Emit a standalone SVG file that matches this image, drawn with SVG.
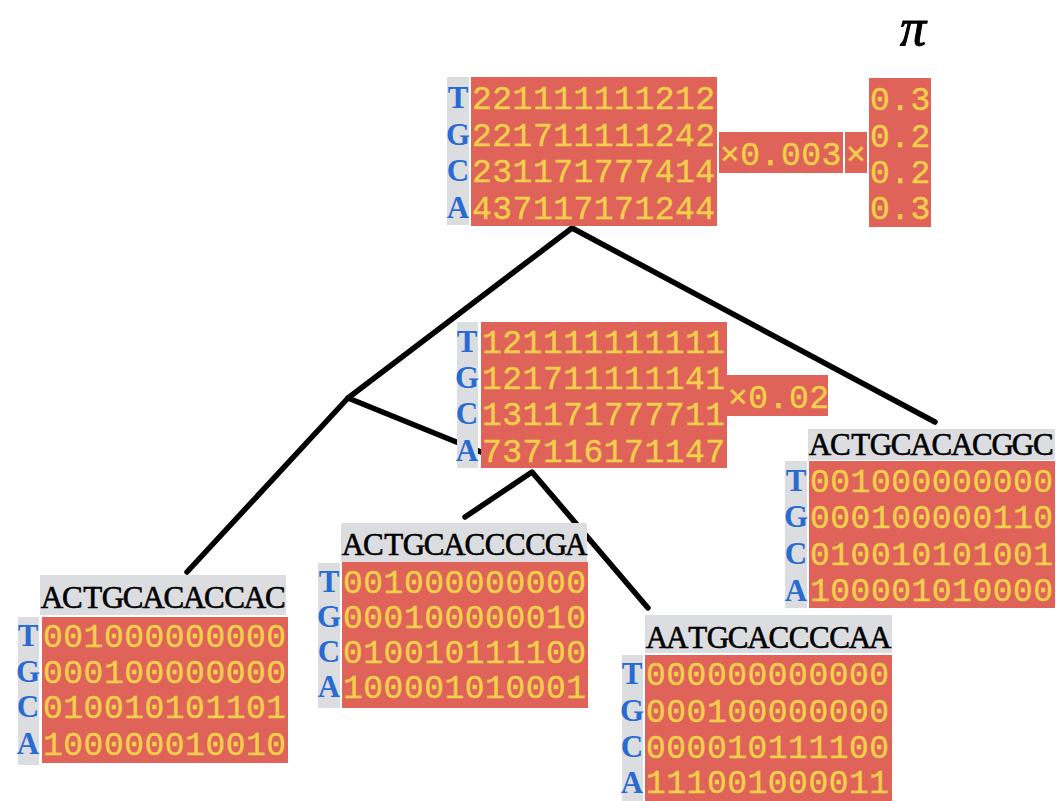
<svg xmlns="http://www.w3.org/2000/svg" width="1056" height="801" viewBox="0 0 1056 801">
<style>
.red{fill:#e0635a}
.gray{fill:#dcdde1}
.dig{font-family:"Liberation Mono",monospace;font-size:33px;fill:#f3d04b;letter-spacing:0.5px;stroke:#f3d04b;stroke-width:0.4}
.base{font-family:"Liberation Serif",serif;font-weight:bold;font-size:31px;fill:#2a6bd0;text-anchor:middle}
.hdr{font-family:"Liberation Serif",serif;font-size:31px;fill:#000;stroke:#000;stroke-width:0.6;text-anchor:middle}
.edge{stroke:#000;stroke-width:5.5;fill:none;stroke-linecap:round;stroke-linejoin:round}
</style>
<rect width="1056" height="801" fill="#fff"/>
<g id="connectors">
<path class="edge" d="M348,398 L572,228 L935,422"/>
<path class="edge" d="M187,572 L348,398 L481,452"/>
<path class="edge" d="M465,517 L532,472 L648,608"/>
</g>
<g id="pi-label">
<text x="913" y="45" font-family="Liberation Serif,serif" font-style="italic" font-size="52" text-anchor="middle" fill="#000" stroke="#000" stroke-width="1">π</text>
</g>
<g id="root">
<rect class="gray" x="447" y="77" width="22" height="148"/>
<rect class="red" x="471" y="77" width="246" height="149"/>
<text class="base" x="458" y="108">T</text>
<text class="base" x="458" y="145">G</text>
<text class="base" x="458" y="181">C</text>
<text class="base" x="458" y="218">A</text>
<text class="dig" x="472" y="109">221111111212</text>
<text class="dig" x="472" y="145.5">221711111242</text>
<text class="dig" x="472" y="182">231171777414</text>
<text class="dig" x="472" y="218.5">437117171244</text>
<rect class="red" x="719" y="132" width="124" height="41"/>
<text class="dig" x="720" y="165">×0.003</text>
<rect class="red" x="845" y="132" width="22" height="41"/>
<text class="dig" x="846" y="165">×</text>
<rect class="red" x="869" y="78" width="62" height="149"/>
<text class="dig" x="870" y="110">0.3</text>
<text class="dig" x="870" y="147">0.2</text>
<text class="dig" x="870" y="183">0.2</text>
<text class="dig" x="870" y="219">0.3</text>
</g>
<g id="internal">
<rect class="gray" x="457" y="322" width="21" height="146"/>
<rect class="red" x="481" y="322" width="246" height="146"/>
<text class="base" x="467" y="352">T</text>
<text class="base" x="467" y="388">G</text>
<text class="base" x="467" y="424">C</text>
<text class="base" x="467" y="461">A</text>
<text class="dig" x="482" y="353">121111111111</text>
<text class="dig" x="482" y="389">121711111141</text>
<text class="dig" x="482" y="425">131171777711</text>
<text class="dig" x="482" y="462">737116171147</text>
<rect class="red" x="727" y="375" width="101" height="41"/>
<text class="dig" x="728" y="408">×0.02</text>
</g>
<g id="leaf-right">
<rect class="gray" x="808" y="429" width="247" height="31"/>
<text class="hdr" x="820 840.3 860.6 880.9 901.2 921.5 941.8 962.1 982.4 1002.7 1023 1043.3" y="455">ACTGCACACGGC</text>
<rect class="gray" x="785" y="461" width="22" height="147"/>
<rect class="red" x="809" y="461" width="246" height="147"/>
<text class="base" x="796" y="491">T</text>
<text class="base" x="796" y="527">G</text>
<text class="base" x="796" y="564">C</text>
<text class="base" x="796" y="601">A</text>
<text class="dig" x="810" y="492">001000000000</text>
<text class="dig" x="810" y="528">000100000110</text>
<text class="dig" x="810" y="565">010010101001</text>
<text class="dig" x="810" y="601">100001010000</text>
</g>
<g id="leaf-left">
<rect class="gray" x="40" y="575" width="246" height="40"/>
<text class="hdr" x="52 72.3 92.6 112.9 133.2 153.5 173.8 194.1 214.4 234.7 255 275.3" y="608">ACTGCACACCAC</text>
<rect class="gray" x="18" y="617" width="21" height="148"/>
<rect class="red" x="42" y="617" width="246" height="146"/>
<text class="base" x="28" y="646">T</text>
<text class="base" x="28" y="682">G</text>
<text class="base" x="28" y="717">C</text>
<text class="base" x="28" y="754">A</text>
<text class="dig" x="43" y="647">001000000000</text>
<text class="dig" x="43" y="683">000100000000</text>
<text class="dig" x="43" y="718">010010101101</text>
<text class="dig" x="43" y="755">100000010010</text>
</g>
<g id="leaf-mid">
<rect class="gray" x="341" y="523" width="246" height="39"/>
<text class="hdr" x="353 373.3 393.6 413.9 434.2 454.5 474.8 495.1 515.4 535.7 556 576.3" y="555">ACTGCACCCCGA</text>
<rect class="gray" x="318" y="563" width="22" height="145"/>
<rect class="red" x="342" y="562" width="246" height="146"/>
<text class="base" x="329" y="592">T</text>
<text class="base" x="329" y="627">G</text>
<text class="base" x="329" y="662">C</text>
<text class="base" x="329" y="697">A</text>
<text class="dig" x="343" y="593">001000000000</text>
<text class="dig" x="343" y="628">000100000010</text>
<text class="dig" x="343" y="663">010010111100</text>
<text class="dig" x="343" y="698">100001010001</text>
</g>
<g id="leaf-lower-right">
<rect class="gray" x="645" y="615" width="247" height="38"/>
<text class="hdr" x="657 677.3 697.6 717.9 738.2 758.5 778.8 799.1 819.4 839.7 860 880.3" y="648">AATGCACCCCAA</text>
<rect class="gray" x="622" y="655" width="21" height="146"/>
<rect class="red" x="645" y="655" width="247" height="146"/>
<text class="base" x="632" y="684">T</text>
<text class="base" x="632" y="721">G</text>
<text class="base" x="632" y="757">C</text>
<text class="base" x="632" y="793">A</text>
<text class="dig" x="646" y="685">000000000000</text>
<text class="dig" x="646" y="722">000100000000</text>
<text class="dig" x="646" y="758">000010111100</text>
<text class="dig" x="646" y="793">111001000011</text>
</g>
</svg>
